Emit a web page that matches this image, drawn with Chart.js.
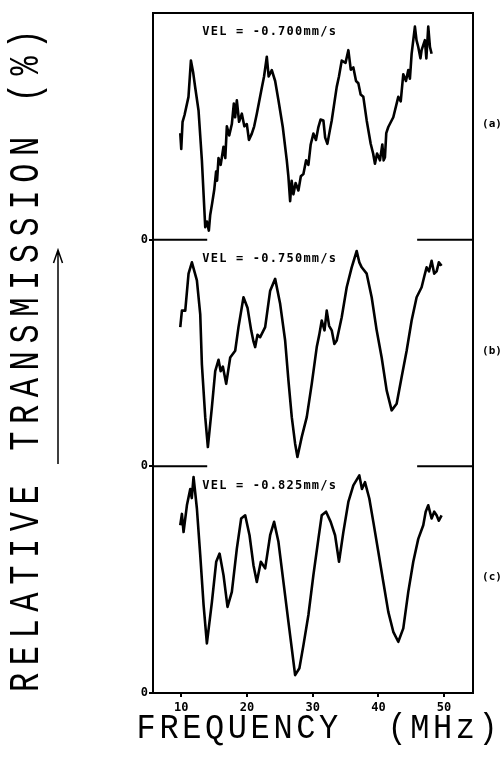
<!DOCTYPE html>
<html>
<head>
<meta charset="utf-8">
<script src="https://cdn.jsdelivr.net/npm/chart.js@4.4.1/dist/chart.umd.min.js"></script>
<style>
html, body { margin: 0; padding: 0; background: #fff; }
</style>
</head>
<body>
<canvas id="myChart" width="503" height="763"></canvas>
<script>
// frequency (MHz) / relative transmission, three velocities
const freqA = [9.85, 10.0, 10.2, 10.5, 11.1, 11.47, 11.8, 12.13, 12.63, 13.14, 13.65, 13.9, 14.2, 14.41, 14.7, 15.02, 15.3, 15.45, 15.67, 16.0, 16.43, 16.7, 16.94, 17.3, 17.7, 18.0, 18.2, 18.46, 18.8, 19.22, 19.6, 19.98, 20.3, 20.74, 21.1, 21.5, 22.26, 22.6, 23.02, 23.3, 23.78, 24.29, 24.79, 25.45, 26.06, 26.3, 26.57, 26.8, 27.07, 27.4, 27.83, 28.2, 28.59, 29.0, 29.35, 29.7, 30.11, 30.5, 30.87, 31.2, 31.63, 31.9, 32.24, 32.6, 32.9, 33.66, 34.0, 34.42, 35.0, 35.43, 35.8, 36.19, 36.6, 36.95, 37.3, 37.71, 38.22, 38.83, 39.2, 39.48, 39.8, 40.24, 40.6, 40.8, 41.0, 41.2, 41.51, 42.27, 43.03, 43.4, 43.79, 44.2, 44.55, 44.8, 45.06, 45.56, 45.8, 46.07, 46.4, 46.58, 47.08, 47.3, 47.59, 47.85, 48.1];
const transA = [47, 40, 52, 55, 63, 79, 74, 67, 57, 35, 5.5, 8, 4, 11, 16, 22, 30, 26, 36, 33, 41, 36, 50, 46, 51, 60, 54, 61.5, 52, 55.6, 50, 51, 44, 46.8, 50, 55.6, 67, 72, 80.7, 72, 74.8, 70, 61.5, 49.7, 35, 28, 17, 26, 20, 25, 21.7, 28, 29, 35, 33, 42, 46.8, 44, 49.7, 53, 52.6, 45, 42.3, 48, 52.6, 67.4, 72, 79, 78, 83.6, 75, 76, 70, 69, 64, 63, 52.6, 42.3, 38, 33.5, 38, 35, 42, 35, 36.4, 47, 49.7, 54, 63, 61, 73, 70, 74.8, 71, 82, 94, 88, 85, 80, 83.6, 88, 80, 94, 85, 82];

const freqB = [9.85, 10.1, 10.61, 11.11, 11.62, 12.38, 12.89, 13.14, 13.65, 14.05, 14.66, 15.17, 15.67, 16.0, 16.33, 16.84, 17.45, 18.21, 18.71, 19.47, 20.08, 20.64, 21.0, 21.25, 21.6, 22.01, 22.77, 23.53, 24.29, 25.05, 25.81, 26.31, 26.82, 27.33, 27.68, 28.34, 29.1, 29.86, 30.62, 31.0, 31.38, 31.8, 32.14, 32.5, 32.9, 33.3, 33.66, 34.42, 35.18, 35.94, 36.7, 37.1, 37.46, 38.22, 38.98, 39.74, 40.5, 41.26, 42.02, 42.78, 43.54, 44.3, 45.06, 45.82, 46.58, 47.0, 47.34, 47.7, 48.1, 48.5, 48.86, 49.2, 49.62];
const transB = [61.4, 68.7, 68.7, 85, 90, 82, 67, 45, 21.7, 8.5, 26, 42, 47, 42, 44, 36.4, 48, 51, 61.4, 74.6, 70, 60, 55, 52.6, 58, 57, 61.4, 77.5, 82.7, 71.7, 55.5, 37.9, 21.7, 10, 4.1, 13, 21.7, 36.4, 52.6, 58, 64.3, 60, 68.7, 62, 60, 54, 55.5, 65.8, 79, 87.8, 95, 90, 87.8, 85, 74.6, 60, 48, 33.5, 24.7, 27.6, 39.4, 51, 64.3, 74.6, 79, 84, 87.8, 86, 90.7, 85, 86, 90, 88.5];

const freqC = [9.85, 10.1, 10.35, 10.86, 11.37, 11.6, 11.87, 12.38, 12.89, 13.4, 13.9, 14.66, 15.32, 15.83, 16.43, 17.04, 17.7, 18.46, 19.12, 19.73, 20.39, 20.99, 21.5, 22.11, 22.77, 23.53, 24.13, 24.79, 25.55, 26.31, 26.82, 27.33, 27.98, 28.59, 29.35, 30.11, 30.87, 31.38, 32.04, 32.74, 33.41, 34.01, 34.67, 35.43, 36.19, 37.1, 37.5, 37.96, 38.62, 39.23, 39.99, 40.75, 41.51, 42.27, 43.03, 43.79, 44.55, 45.31, 46.07, 46.83, 47.2, 47.59, 48.1, 48.5, 48.86, 49.2, 49.62];
const transC = [74, 79, 71, 82.8, 90, 86, 95.3, 81.4, 60.8, 38.8, 21.9, 40, 57.9, 61.5, 52, 38, 44.6, 63.7, 77, 78.4, 69.6, 56.4, 49, 57.9, 55, 69.6, 75.5, 66.7, 49, 31.4, 19.7, 7.9, 10.9, 21, 34.4, 52, 68, 78.4, 80, 75.5, 69.6, 57.9, 71, 84.3, 91.6, 96, 90, 93, 85.8, 75.5, 62.3, 49, 35.8, 27, 22.6, 28.5, 44.6, 57.9, 68, 74, 80, 82.8, 77, 80, 78.4, 76, 78.4];

const velLabels = ['VEL = -0.700mm/s', 'VEL = -0.750mm/s', 'VEL = -0.825mm/s'];
const panelLabels = ['(a)', '(b)', '(c)'];
const freqTicks = [10, 20, 30, 40, 50];

function pts(xs, ys) {
    return xs.map((x, i) => ({x: x, y: ys[i]}));
}

function panelAxis() {
    return {
        type: 'linear',
        position: 'left',
        stack: 'panels',
        stackWeight: 1,
        min: 0,
        max: 100,
        afterFit: (s) => { s.width = 14; },
        afterBuildTicks: (s) => { s.ticks = [{value: 0}]; },
        grid: { drawOnChartArea: false, drawTicks: true, tickLength: 4, color: '#000', lineWidth: 2 },
        border: { display: false },
        ticks: {
            color: '#000',
            padding: 1,
            font: { family: 'DejaVu Sans Mono', weight: 'bold', size: 12 },
            callback: (v) => v === 0 ? '0' : ''
        }
    };
}

// frame, partial baselines, labels and titles
const decorations = {
    id: 'decorations',
    afterDraw(chart) {
        const ctx = chart.ctx;
        const area = chart.chartArea;
        const x = chart.scales.x;
        const panels = [chart.scales.ya, chart.scales.yb, chart.scales.yc];
        ctx.save();
        ctx.strokeStyle = '#000';
        ctx.fillStyle = '#000';
        ctx.lineWidth = 2;
        ctx.strokeRect(area.left, area.top, area.right - area.left, area.bottom - area.top);

        // zero lines of (a) and (b), broken in the middle
        [panels[0], panels[1]].forEach(s => {
            const y = s.getPixelForValue(0);
            ctx.beginPath();
            ctx.moveTo(area.left, y);
            ctx.lineTo(x.getPixelForValue(13.95), y);
            ctx.moveTo(x.getPixelForValue(45.9), y);
            ctx.lineTo(area.right, y);
            ctx.stroke();
        });

        ctx.textBaseline = 'middle';
        panels.forEach((s, i) => {
            ctx.font = 'bold 12px "DejaVu Sans Mono"';
            ctx.letterSpacing = '1.2px';
            ctx.textAlign = 'left';
            ctx.fillText(velLabels[i], x.getPixelForValue(13.2), s.getPixelForValue(91.5));
            ctx.font = 'bold 11px "DejaVu Sans Mono"';
            ctx.letterSpacing = '0px';
            ctx.textAlign = 'center';
            ctx.fillText(panelLabels[i], 492, s.getPixelForValue(51));
        });

        // axis titles, thin plotter-like lettering
        ctx.font = '32px "Liberation Mono"';
        ctx.letterSpacing = '3.6px';
        ctx.textAlign = 'center';
        ctx.save();
        ctx.translate(319, 729);
        ctx.scale(1, 1.12);
        ctx.fillText('FREQUENCY  (MHz)', 0, 0);
        ctx.restore();

        ctx.save();
        ctx.translate(27, 357);
        ctx.rotate(-Math.PI / 2);
        ctx.scale(1, 1.3);
        ctx.font = '32px "Liberation Mono"';
        ctx.letterSpacing = '7.6px';
        ctx.fillText('RELATIVE TRANSMISSION (%)', 0, 0);
        ctx.restore();

        // arrow beside the title
        ctx.lineWidth = 1.5;
        ctx.beginPath();
        ctx.moveTo(58, 464);
        ctx.lineTo(58, 251);
        ctx.moveTo(53.5, 263);
        ctx.lineTo(58, 250);
        ctx.lineTo(62.5, 263);
        ctx.stroke();
        ctx.restore();
    }
};

const lineStyle = { borderColor: '#000', borderWidth: 2.6, borderJoinStyle: 'round', pointRadius: 0, tension: 0, fill: false };

const ctx = document.getElementById('myChart').getContext('2d');
const myChart = new Chart(ctx, {
    type: 'line',
    data: {
        datasets: [
            Object.assign({ label: '(a)', data: pts(freqA, transA), yAxisID: 'ya' }, lineStyle),
            Object.assign({ label: '(b)', data: pts(freqB, transB), yAxisID: 'yb' }, lineStyle),
            Object.assign({ label: '(c)', data: pts(freqC, transC), yAxisID: 'yc' }, lineStyle)
        ]
    },
    options: {
        responsive: false,
        animation: false,
        layout: { padding: { left: 139, right: 30, top: 13, bottom: 46 } },
        scales: {
            x: {
                type: 'linear',
                min: 5.7,
                max: 54.4,
                afterFit: (s) => { s.height = 24; },
                afterBuildTicks: (s) => { s.ticks = freqTicks.map(v => ({value: v})); },
                grid: { drawOnChartArea: false, drawTicks: true, tickLength: 4, color: '#000', lineWidth: 2 },
                border: { display: false },
                ticks: {
                    color: '#000',
                    padding: 4,
                    maxRotation: 0,
                    font: { family: 'DejaVu Sans Mono', weight: 'bold', size: 12 }
                }
            },
            yc: panelAxis(),
            yb: panelAxis(),
            ya: panelAxis()
        },
        plugins: {
            legend: { display: false },
            title: { display: false },
            tooltip: { enabled: false }
        }
    },
    plugins: [decorations]
});
</script>
</body>
</html>
